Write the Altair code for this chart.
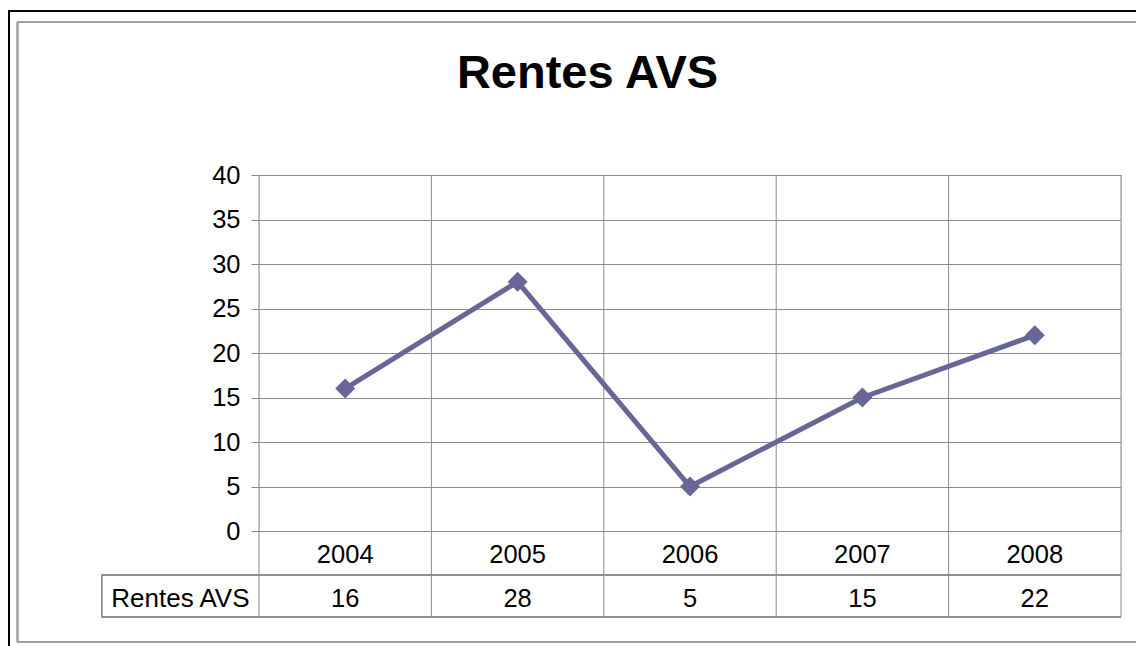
import altair as alt
import pandas as pd

years = ["2004", "2005", "2006", "2007", "2008"]
values = [16, 28, 5, 15, 22]
series_name = "Rentes AVS"
title_text = "Rentes AVS"
y_ticks = [0, 5, 10, 15, 20, 25, 30, 35, 40]

W, H = 862, 356
FONT = "Liberation Sans"
GRID = "#8c8c8c"
LINE = "#666699"

df = pd.DataFrame({"year": years, "value": values})
last = pd.DataFrame({"year": [years[-1]]})

xscale = alt.Scale(type="band", paddingInner=0, paddingOuter=0, domain=years)
yscale = alt.Scale(domain=[0, 40], nice=False, zero=True)

xaxis = alt.Axis(title=None, domain=False, grid=False, ticks=False, tickSize=0,
                 bandPosition=0.5, labelAlign="center",
                 labelAngle=0, labelFontSize=25.5, labelFont=FONT, labelColor="black",
                 labelPadding=31.5, labelBaseline="alphabetic")
yaxis = alt.Axis(title=None, values=y_ticks, domain=False, grid=True, gridColor=GRID,
                 gridWidth=1, ticks=True, tickColor=GRID, tickSize=8, tickWidth=1,
                 labelFontSize=25.5, labelFont=FONT, labelColor="black", labelPadding=11)

base = alt.Chart(df)

def hline(y, x1, x2, color, w):
    return base.mark_rule(color=color, strokeWidth=w).encode(
        x=alt.value(x1), x2=alt.value(x2), y=alt.value(y))

def vline(x, y1, y2, color, w):
    return base.mark_rule(color=color, strokeWidth=w).encode(
        x=alt.value(x), y=alt.value(y1), y2=alt.value(y2))

frames = [
    hline(-164, -251, 1200, "black", 2),
    vline(-250, -165, 1200, "black", 2),
    hline(-153, -242, 1200, "#a0a0a0", 1.5),
    vline(-241.5, -153, 467, "#a0a0a0", 1.5),
    hline(467, -242, 1200, "#a0a0a0", 1.5),
]

line = base.mark_line(color=LINE, strokeWidth=5).encode(
    x=alt.X("year:N", scale=xscale, axis=xaxis, sort=years),
    y=alt.Y("value:Q", scale=yscale, axis=yaxis))
pts = base.mark_point(shape="diamond", size=400, filled=True, color=LINE, opacity=1).encode(
    x=alt.X("year:N", sort=years), y="value:Q")

vrules = base.mark_rule(color=GRID, strokeWidth=1).encode(
    x=alt.X("year:N", bandPosition=0, sort=years), y=alt.value(0), y2=alt.value(442))
vlast = alt.Chart(last).mark_rule(color=GRID, strokeWidth=1).encode(
    x=alt.X("year:N", bandPosition=1, sort=years), y=alt.value(0), y2=alt.value(442))

table = [
    hline(400, -157.3, W, GRID, 1),
    hline(442, -157.3, W, GRID, 1),
    vline(-157.3, 400, 442, GRID, 1),
]

vals = base.mark_text(font=FONT, fontSize=25.5, color="black", baseline="alphabetic",
                      align="center").encode(
    x=alt.X("year:N", sort=years), y=alt.value(432), text="value:Q")
lab = alt.Chart(pd.DataFrame({"name": [series_name]})).mark_text(
    font=FONT, fontSize=26, color="black", baseline="alphabetic", align="center").encode(
    x=alt.value(-78.6), y=alt.value(432), text="name:N")
title = alt.Chart(pd.DataFrame({"t": [title_text]})).mark_text(
    font=FONT, fontSize=47, fontWeight="bold", color="black", baseline="alphabetic",
    align="center").encode(x=alt.value(328.5), y=alt.value(-87.5), text="t:N")

chart = alt.layer(*frames, vrules, vlast, *table, line, pts,
                  vals, lab, title).properties(
    width=W, height=H,
    autosize=alt.AutoSizeParams(type="none"),
    padding={"left": 251, "top": 167, "right": 15, "bottom": 115},
).configure_view(stroke=None).configure(background="white")

chart.save("out.html", embed_options={"renderer": "svg", "actions": False})
